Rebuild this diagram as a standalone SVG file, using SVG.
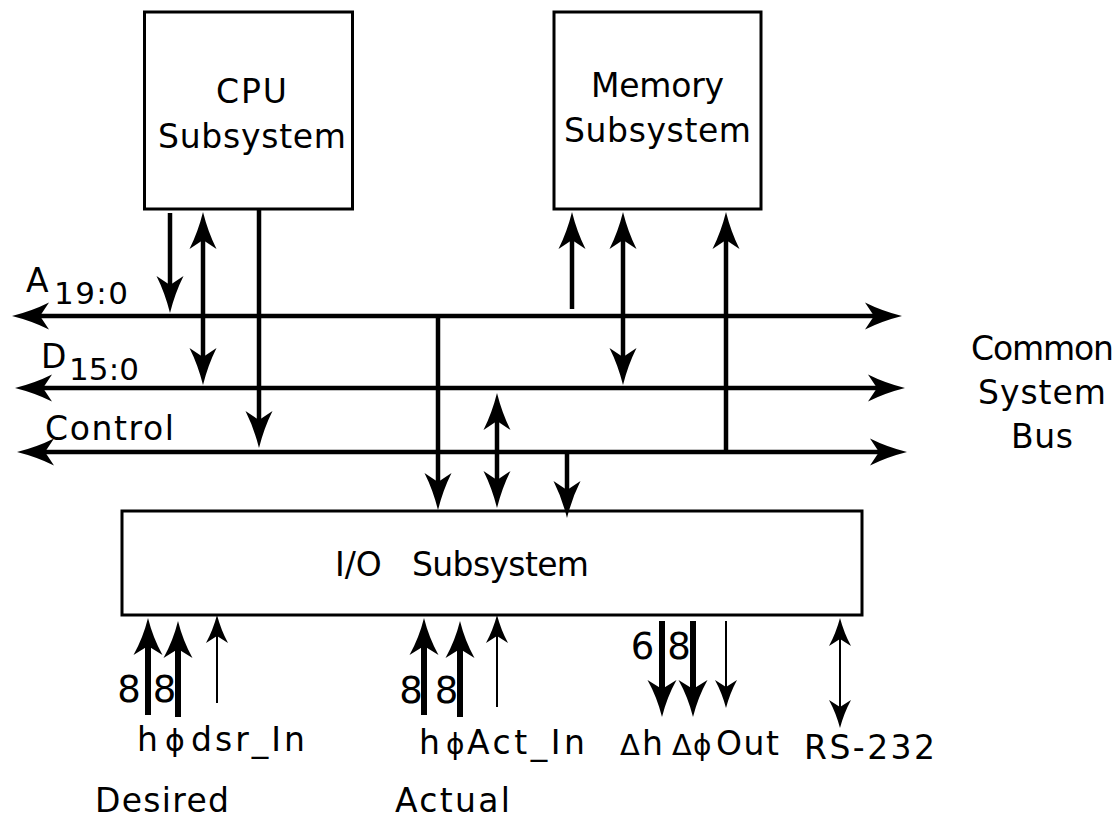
<svg xmlns="http://www.w3.org/2000/svg" width="1120" height="819" viewBox="0 0 1120 819">
<style>
.box{fill:#fff;stroke:#000;stroke-width:3}
.t{font-family:"DejaVu Sans","Liberation Sans",sans-serif;font-size:33px;fill:#000}
.n{font-family:"DejaVu Sans","Liberation Sans",sans-serif;font-size:37px;fill:#000;text-anchor:middle}
.w{stroke:#000;stroke-width:4.5;fill:none}
.k{stroke:#000;stroke-width:6;fill:none}
.s{stroke:#000;stroke-width:2;fill:none}
.w.e{marker-end:url(#hW)}
.w.b{marker-start:url(#hW);marker-end:url(#hW)}
.k.e{marker-end:url(#hK)}
.s.e{marker-end:url(#hS)}
.s.b{marker-start:url(#hS);marker-end:url(#hS)}
</style>
<defs>
<marker id="hW" markerUnits="userSpaceOnUse" orient="auto-start-reverse" overflow="visible" refX="0" refY="0" markerWidth="1" markerHeight="1">
<path d="M26,0 Q6,-5 -11,-13.5 L-2,0 L-11,13.5 Q6,5 26,0Z" fill="#000"/>
</marker>
<marker id="hK" markerUnits="userSpaceOnUse" orient="auto-start-reverse" overflow="visible" refX="0" refY="0" markerWidth="1" markerHeight="1">
<path d="M26,0 Q6,-5 -11,-14.5 L-2,0 L-11,14.5 Q6,5 26,0Z" fill="#000"/>
</marker>
<marker id="hS" markerUnits="userSpaceOnUse" orient="auto-start-reverse" overflow="visible" refX="0" refY="0" markerWidth="1" markerHeight="1">
<path d="M20,0 Q5,-4 -8,-11 L-1,0 L-8,11 Q5,4 20,0Z" fill="#000"/>
</marker>
</defs>
<rect width="1120" height="819" fill="#fff"/>

<g id="cpu">
<rect class="box" x="144.5" y="12" width="208" height="197"/>
<text class="t" x="216" y="103" textLength="71" lengthAdjust="spacing">CPU</text>
<text class="t" x="158" y="148" textLength="188" lengthAdjust="spacing">Subsystem</text>
</g>

<g id="memory">
<rect class="box" x="554" y="12" width="207" height="197"/>
<text class="t" x="591" y="97" textLength="133" lengthAdjust="spacing">Memory</text>
<text class="t" x="564" y="142" textLength="187" lengthAdjust="spacing">Subsystem</text>
</g>

<g id="io">
<rect class="box" x="122" y="511" width="740" height="104"/>
<text class="t" y="576"><tspan x="335">I/O</tspan> <tspan x="412" textLength="177" lengthAdjust="spacing">Subsystem</tspan></text>
</g>

<g id="bus-labels">
<text class="t" y="292"><tspan x="26">A</tspan><tspan x="54" y="304" font-size="31" textLength="74" lengthAdjust="spacing">19:0</tspan></text>
<text class="t" y="368"><tspan x="41">D</tspan><tspan x="69" y="380" font-size="31" textLength="70" lengthAdjust="spacing">15:0</tspan></text>
<text class="t" x="45" y="440" textLength="129" lengthAdjust="spacing">Control</text>
</g>

<g id="common-bus-label">
<text class="t" x="971" y="360" textLength="143" lengthAdjust="spacing">Common</text>
<text class="t" x="978" y="404" textLength="128" lengthAdjust="spacing">System</text>
<text class="t" x="1011" y="448" textLength="62" lengthAdjust="spacing">Bus</text>
</g>

<g id="connectors">
<line class="w b" x1="38" y1="316" x2="876" y2="316"/>
<line class="w b" x1="41" y1="388" x2="879" y2="388"/>
<line class="w b" x1="43" y1="452" x2="881" y2="452"/>
<line class="w e" x1="170" y1="213" x2="170" y2="287"/>
<line class="w b" x1="203" y1="238" x2="203" y2="359"/>
<line class="w e" x1="259" y1="210" x2="259" y2="422"/>
<line class="w e" x1="438" y1="314" x2="438" y2="484"/>
<line class="w b" x1="497" y1="419" x2="497" y2="482"/>
<line class="w e" x1="567" y1="450" x2="567" y2="492"/>
<line class="w e" x1="572" y1="309" x2="572" y2="238"/>
<line class="w b" x1="623" y1="238" x2="623" y2="359"/>
<line class="w e" x1="726" y1="454" x2="726" y2="238"/>
<line class="k e" x1="148" y1="715" x2="148" y2="644"/>
<line class="k e" x1="178" y1="717" x2="178" y2="647"/>
<line class="s e" x1="217" y1="703" x2="217" y2="635"/>
<line class="k e" x1="424" y1="715" x2="424" y2="644"/>
<line class="k e" x1="460" y1="717" x2="460" y2="647"/>
<line class="s e" x1="497" y1="707" x2="497" y2="635"/>
<line class="k e" x1="662" y1="621" x2="662" y2="691"/>
<line class="k e" x1="693" y1="621" x2="693" y2="691"/>
<line class="s e" x1="726" y1="621" x2="726" y2="688"/>
<line class="s b" x1="840" y1="638" x2="840" y2="708"/>
</g>

<g id="io-labels">
<text class="n" x="129" y="702">8</text>
<text class="n" x="164.5" y="702">8</text>
<text class="n" x="411" y="703">8</text>
<text class="n" x="446.5" y="703">8</text>
<text class="n" x="642.5" y="659">6</text>
<text class="n" x="679" y="659">8</text>
<text class="t" y="751"><tspan x="137">h</tspan> <tspan x="165" font-size="30">ϕ</tspan> <tspan x="191" textLength="114" lengthAdjust="spacing">dsr_In</tspan></text>
<text class="t" y="754"><tspan x="419">h</tspan> <tspan x="446" font-size="28">ϕ</tspan><tspan x="467" textLength="118" lengthAdjust="spacing">Act_In</tspan></text>
<text class="t" y="755"><tspan x="620" font-size="29">Δ</tspan><tspan x="642">h</tspan> <tspan x="672" font-size="29">Δ</tspan><tspan x="693" font-size="28">ϕ</tspan><tspan x="716" textLength="63" lengthAdjust="spacing">Out</tspan></text>
<text class="t" x="804" y="759" textLength="131" lengthAdjust="spacing">RS-232</text>
<text class="t" x="95" y="812" textLength="134" lengthAdjust="spacing">Desired</text>
<text class="t" x="395" y="812" textLength="115" lengthAdjust="spacing">Actual</text>
</g>
</svg>
